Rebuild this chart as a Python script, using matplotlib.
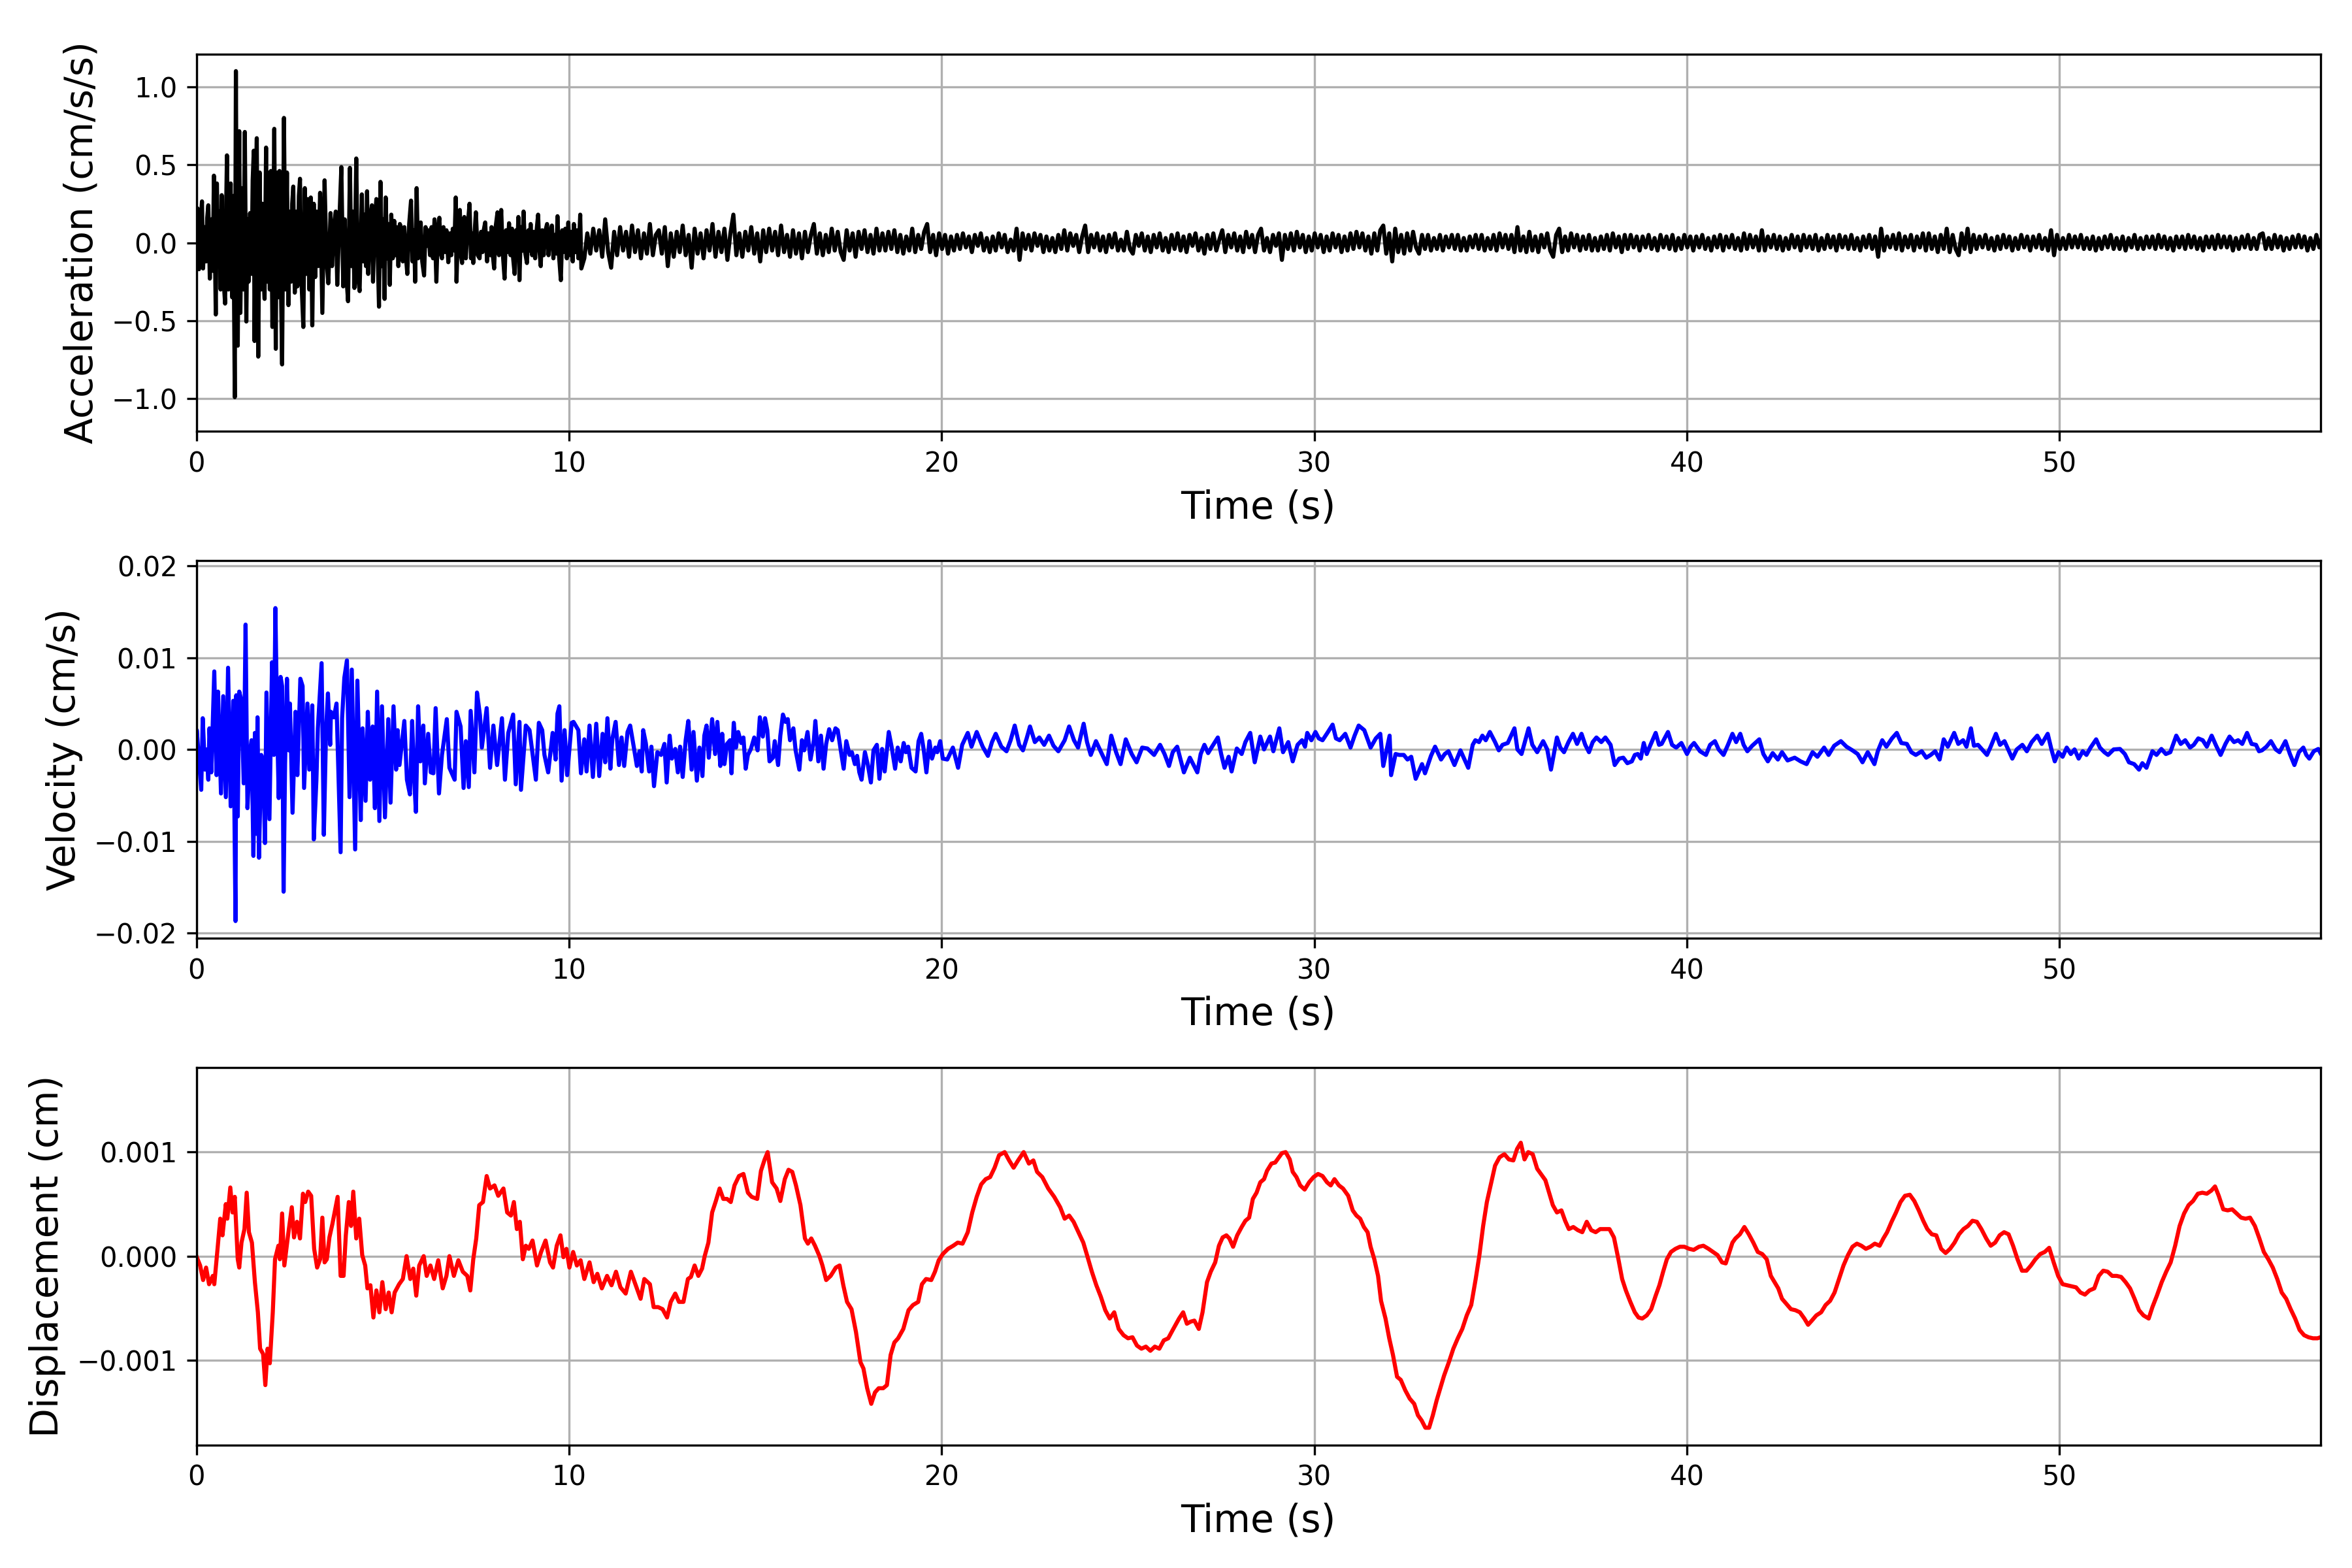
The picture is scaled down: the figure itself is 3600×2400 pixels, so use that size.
import numpy as np
import matplotlib
matplotlib.use("Agg")
import matplotlib.pyplot as plt
from matplotlib.ticker import MultipleLocator

# ---------------- Acceleration (cm/s/s) ----------------
# early part: (time s, value cm/s/s)
acc_early = [
    (0.00, 0.0), (0.03, 0.22), (0.07, -0.17), (0.11, 0.12), (0.15, 0.265), (0.18, -0.165),
    (0.22, 0.10), (0.26, -0.12), (0.29, 0.16), (0.32, 0.24), (0.36, -0.23), (0.40, 0.15),
    (0.44, -0.18), (0.47, 0.43), (0.52, -0.46), (0.55, 0.38), (0.59, -0.15), (0.62, 0.20),
    (0.65, -0.30), (0.68, 0.305), (0.72, -0.20), (0.77, -0.39), (0.80, 0.25), (0.82, 0.56),
    (0.86, -0.30), (0.89, 0.10), (0.92, 0.38), (0.96, -0.35), (0.99, 0.30), (1.03, -0.99),
    (1.06, 1.10), (1.09, -0.40), (1.11, -0.66), (1.15, 0.715), (1.18, -0.45), (1.22, 0.35),
    (1.26, -0.30), (1.30, 0.71), (1.34, -0.505), (1.37, 0.15), (1.40, -0.25), (1.44, 0.19),
    (1.48, -0.20), (1.51, 0.40), (1.54, 0.59), (1.56, -0.63), (1.59, 0.30), (1.62, 0.67),
    (1.66, -0.73), (1.70, 0.45), (1.73, -0.30), (1.77, 0.25), (1.80, -0.20), (1.83, -0.36),
    (1.87, 0.61), (1.90, -0.25), (1.94, 0.45), (1.97, -0.30), (2.00, 0.46), (2.04, -0.54),
    (2.07, 0.20), (2.09, 0.73), (2.13, -0.68), (2.16, 0.45), (2.20, -0.35), (2.23, 0.46),
    (2.27, -0.30), (2.30, -0.78), (2.35, 0.80), (2.39, -0.30), (2.43, 0.45), (2.47, -0.40),
    (2.50, 0.20), (2.54, -0.25), (2.57, 0.25), (2.60, 0.36), (2.64, -0.32), (2.68, 0.20),
    (2.71, -0.28), (2.75, 0.30), (2.78, 0.41), (2.82, -0.25), (2.87, -0.54), (2.91, 0.35),
    (2.95, -0.20), (2.99, 0.28), (3.03, -0.30), (3.07, 0.29), (3.11, -0.53), (3.15, 0.25),
    (3.19, -0.22), (3.23, 0.20), (3.27, -0.15), (3.32, 0.32), (3.38, -0.45), (3.44, 0.40),
    (3.49, -0.10), (3.54, -0.26), (3.60, 0.19), (3.64, -0.15), (3.69, 0.10), (3.74, 0.20),
    (3.78, -0.27), (3.83, 0.10), (3.89, 0.485), (3.94, -0.28), (3.98, 0.15), (4.02, -0.20),
    (4.07, -0.375), (4.12, 0.48), (4.16, -0.15), (4.20, 0.20), (4.24, -0.29), (4.29, 0.54),
    (4.33, -0.20), (4.38, -0.31), (4.44, 0.31), (4.48, -0.12), (4.52, 0.18), (4.55, -0.15),
    (4.58, 0.33), (4.61, -0.20), (4.66, 0.15), (4.71, 0.24), (4.74, -0.25), (4.78, 0.12),
    (4.83, 0.28), (4.87, -0.12), (4.90, -0.41), (4.94, 0.39), (4.98, -0.15), (5.01, 0.15),
    (5.05, -0.36), (5.08, 0.29), (5.12, -0.10), (5.16, 0.12), (5.19, -0.27), (5.23, 0.18),
    (5.27, -0.10), (5.31, 0.14), (5.35, -0.08), (5.38, 0.10), (5.42, -0.15), (5.46, 0.12),
    (5.50, 0.09), (5.54, -0.12), (5.58, 0.10), (5.62, -0.08), (5.66, -0.20), (5.71, 0.12),
    (5.76, 0.27), (5.80, -0.12), (5.84, 0.08), (5.87, -0.25), (5.91, 0.35), (5.95, -0.10),
    (5.99, 0.05), (6.02, 0.13), (6.06, -0.12), (6.11, -0.21), (6.15, 0.10), (6.19, -0.02),
    (6.23, 0.08), (6.27, -0.08), (6.31, 0.10), (6.35, -0.10), (6.39, 0.15), (6.44, -0.25),
    (6.48, 0.08), (6.52, 0.16), (6.56, -0.07), (6.59, -0.10), (6.63, 0.10), (6.67, -0.06),
    (6.71, 0.08), (6.76, -0.125), (6.80, 0.06), (6.84, -0.08), (6.88, 0.09), (6.92, -0.05),
    (6.96, 0.29), (6.98, -0.25), (7.02, 0.08), (7.07, 0.21), (7.10, -0.08), (7.13, -0.13),
    (7.16, 0.10), (7.19, 0.165), (7.23, -0.10), (7.27, 0.08), (7.33, 0.25), (7.37, -0.10),
    (7.40, 0.06), (7.43, -0.13), (7.47, 0.08), (7.50, 0.195), (7.55, -0.08), (7.60, -0.10),
    (7.64, 0.07), (7.68, -0.06), (7.71, 0.08), (7.75, 0.13), (7.80, -0.12), (7.84, 0.06),
    (7.88, -0.08), (7.92, 0.10), (7.95, -0.07), (7.99, -0.165), (8.03, 0.10), (8.08, 0.195),
    (8.12, -0.08), (8.15, 0.05), (8.18, 0.21), (8.22, -0.06), (8.27, -0.23), (8.31, 0.08),
    (8.35, -0.06), (8.39, 0.125), (8.43, -0.08), (8.47, 0.09), (8.50, -0.10), (8.54, -0.20),
    (8.58, 0.08), (8.61, -0.05), (8.64, 0.165), (8.67, -0.24), (8.71, 0.10), (8.75, -0.05),
    (8.78, 0.20), (8.82, -0.06), (8.87, -0.13), (8.91, 0.08), (8.94, -0.05), (8.97, 0.12),
    (9.01, -0.08), (9.05, 0.07), (9.09, -0.10), (9.13, 0.08), (9.17, 0.18), (9.21, -0.06),
    (9.24, -0.15), (9.28, 0.08), (9.32, -0.08), (9.36, 0.07), (9.41, 0.12), (9.45, -0.08),
    (9.49, 0.06), (9.54, 0.11), (9.58, -0.10), (9.62, 0.05), (9.66, -0.07), (9.69, 0.17),
    (9.73, -0.08), (9.78, -0.24), (9.82, 0.08), (9.86, -0.06), (9.90, 0.09), (9.94, -0.10),
    (9.98, 0.13), (10.02, -0.08), (10.06, 0.07), (10.10, -0.12), (10.13, 0.12), (10.17, -0.06),
    (10.21, 0.08), (10.25, -0.10), (10.30, 0.18), (10.33, -0.165),
]

# later part: regular samples every 0.08 s from 10.41 s, values in 0.01 cm/s/s
acc_late_start = 10.41
acc_late_step = 0.08
acc_late_centi = [
    -10, 6, -7, 9, -5, 8, -9, 15, -6, -16, 7, -8, 10, -5, 7, -9, 11, -6, 8, -10, 6, -7, 12, -8, 5,
    8, -7, 10, -15, 6, -9, 7, -6, 11, -8, 5, -16, 9, -7, 6, -10, 8, -5, 12, -9, 7, -6, 9, -11, 6,
    18, -8, 6, -9, 7, -5, 10, -7, 6, -12, 8, -6, 9, -5, 7, -8, 11, -6, 5, -9, 8, -7, 6, -10, 7,
    -6, 5, 12, -7, 6, -8, 5, -6, 9, -5, 7, -6, -11, 8, -5, 6, -9, 7, -4, 8, -6, 5, -7, 9, -5,
    6, -5, 7, -4, 8, -6, 5, -7, 4, -5, 9, -6, 5, -4, 7, 12, -6, 5, -8, 6, -4, 5, -7, 4, -5,
    5, -4, 6, -3, 4, -6, 5, -2, 6, -5, 3, -6, 4, -5, 6, -3, 5, -6, 2, -5, 9, -11, 6, -4, 5,
    -5, 6, -2, 5, -6, 4, -5, 3, -6, 5, -4, 8, -5, 6, -2, 5, -6, 4, 11, -6, 5, -3, 6, -5, 4,
    -6, 5, -3, 6, -5, 2, -5, 7, -4, -7, 5, -2, 6, -5, 4, -6, 5, -3, 6, -5, 3, -6, 5, -4, 6,
    -5, 4, -6, 5, -2, 6, -5, 3, -7, 5, -4, 6, -5, 2, 8, -6, 5, -3, 6, -5, 4, -6, 7, -3, 5,
    -6, 5, 9, -5, 3, -6, 5, -2, 6, -11, 5, -4, 6, -5, 7, -3, 5, -6, 4, -5, 6, -3, 5, -6, 4,
    -5, 6, -3, 5, -6, 4, -5, 6, -4, 7, -3, 6, -5, 4, -7, 6, -5, 8, 11, -7, 6, -12, 9, -6, 5,
    -7, 6, -5, 7, -3, -7, 5, -4, 5, -5, 3, -4, 5, -5, 4, -3, 5, -4, 5, -5, 3, -5, 4, -3, 5,
    -4, 5, -5, 3, -4, 5, -5, 6, -3, 5, -4, 5, -6, 10, -5, 4, -6, 7, -5, 4, -6, 5, -3, 6, -5,
    -9, 5, 9, -6, 4, -5, 6, -3, 5, -5, 4, -4, 5, -5, 3, -5, 4, -4, 5, -5, 6, -3, 4, -6, 5,
    -4, 5, -3, 4, -5, 4, -3, 5, -4, 3, -5, 5, -3, 4, -4, 5, -5, 3, -4, 5, -3, 4, -5, 4, -3,
    5, -4, 3, -5, 4, -3, 5, -5, 4, -3, 5, -4, 3, -5, 6, -4, 5, -3, 4, -5, 8, -5, 4, -3, 5,
    -4, 4, -5, 3, -4, 5, -3, 4, -5, 5, -3, 4, -4, 5, -5, 3, -4, 5, -3, 4, -5, 5, -3, 4, -4,
    5, -4, 3, -5, 4, -3, 5, -4, 4, -9, 9, -5, 4, -3, 5, -4, 6, -5, 4, -3, 5, -5, 4, -3, 6,
    -5, 6, -4, 4, -6, 5, -4, 9, -6, 5, -4, -8, 6, -4, 9, -6, 5, -4, 4, -3, 5, -4, 3, -5, 4,
    -4, 5, -3, 4, -5, 3, -4, 5, -3, 4, -5, 4, -3, 5, -4, 3, -5, 8, -8, 5, -4, 3, -4, 5, -3,
    4, -3, 5, -4, 3, -4, 4, -5, 3, -4, 4, -3, 5, -4, 3, -4, 4, -5, 3, -3, 5, -4, 3, -4, 4,
    -3, 4, -4, 5, -3, 4, -4, 3, -5, 4, -3, 4, -4, 5, -3, 4, -4, 3, -5, 4, -3, 4, -4, 5, -3,
    4, -3, 4, -5, 3, -4, 4, -3, 5, -4, 3, -4, 5, 6, -4, 3, -4, 5, -3, 4, -5, 3, -4, 4, -3,
    5, -3, 4, -5, 3, -4, 5, -3, 4, -5, 3, -4, 5, -3, 4, -4, 5, -3, 4, -5, 3, -3, 4, -4, 3,
]

# ---------------- Velocity (values in 0.001 cm/s) ----------------
vel_milli = [
    (0.00, 0.0), (0.01, 2.1), (0.13, -4.4), (0.17, 3.4), (0.23, -2.2), (0.27, 0.0), (0.32, -3.3),
    (0.35, 2.3), (0.40, -2.5), (0.48, 8.5), (0.54, -2.8), (0.58, 6.3), (0.66, -4.8), (0.72, 5.8),
    (0.79, -5.2), (0.85, 8.9), (0.92, -6.2), (0.99, 5.3), (1.05, -18.7), (1.07, 5.9), (1.11, -7.3),
    (1.15, 6.3), (1.21, 5.3), (1.27, -3.7), (1.32, 13.6), (1.37, -6.4), (1.44, -0.2), (1.48, 1.0),
    (1.53, -11.6), (1.57, 1.8), (1.61, -9.2), (1.64, 3.5), (1.68, -11.8), (1.74, -0.6), (1.79, -1.1),
    (1.84, -10.2), (1.88, 6.2), (1.96, -7.6), (2.03, 9.5), (2.08, -0.6), (2.12, 15.4), (2.17, 2.1),
    (2.21, -5.3), (2.26, 7.9), (2.30, 6.9), (2.34, -15.5), (2.38, -1.6), (2.43, 7.7), (2.48, -0.1),
    (2.51, 5.0), (2.58, -6.9), (2.66, 4.1), (2.71, -2.8), (2.79, 7.7), (2.85, 6.9), (2.89, -4.2),
    (2.98, 5.0), (3.03, -2.2), (3.11, 4.8), (3.15, -9.8), (3.22, -3.4), (3.26, 2.3), (3.36, 9.4),
    (3.42, -9.3), (3.48, 2.1), (3.53, 6.1), (3.59, 0.5), (3.61, 4.1), (3.69, 3.5), (3.76, 5.0),
    (3.87, -11.2), (3.91, 3.4), (3.97, 7.8), (4.04, 9.7), (4.11, -5.2), (4.17, 8.7), (4.26, -10.9),
    (4.32, 7.5), (4.41, -7.7), (4.46, 2.3), (4.54, -5.6), (4.60, 4.1), (4.66, -3.3), (4.73, 2.5),
    (4.79, -6.4), (4.85, 6.3), (4.91, -7.8), (4.98, 4.7), (5.06, -7.4), (5.15, 3.3), (5.21, -5.8),
    (5.29, 4.7), (5.36, -2.2), (5.40, 2.1), (5.45, -1.7), (5.58, 3.1), (5.65, -3.3), (5.73, -4.9),
    (5.79, 3.1), (5.84, -2.8), (5.89, -6.8), (5.95, 4.7), (6.01, -1.3), (6.09, 2.6), (6.13, -3.7),
    (6.22, 1.7), (6.29, -2.5), (6.36, -2.6), (6.42, 4.5), (6.51, -4.8), (6.59, -0.6), (6.72, 3.3),
    (6.79, -2.0), (6.93, -3.3), (6.98, 4.1), (7.09, 2.5), (7.17, -4.2), (7.23, 0.9), (7.31, -4.1),
    (7.36, 4.2), (7.46, -2.5), (7.53, 6.2), (7.61, 3.7), (7.66, 0.2), (7.79, 4.5), (7.88, -2.0),
    (7.97, 2.6), (8.07, -1.7), (8.20, 3.4), (8.28, -3.3), (8.37, 1.8), (8.50, 3.8), (8.57, -3.8),
    (8.67, 3.0), (8.71, -4.4), (8.84, 2.6), (8.94, 2.1), (9.11, -3.3), (9.19, 2.9), (9.28, 2.1),
    (9.34, -0.6), (9.44, -2.5), (9.56, 1.8), (9.64, -1.1), (9.69, 3.9), (9.74, 4.7), (9.80, -3.4),
    (9.88, 2.1), (9.95, -2.8), (10.07, 2.9),
    (10.12, 3.0), (10.25, 2.1), (10.32, -2.6), (10.41, 1.1), (10.47, -2.4), (10.55, 2.6), (10.64, -3.0),
    (10.73, 2.8), (10.81, -2.9), (10.90, 1.7), (10.97, -1.4), (11.03, 3.4), (11.11, -2.1), (11.16, 1.1),
    (11.25, 3.0), (11.34, -1.7), (11.41, 1.3), (11.48, -1.8), (11.57, 1.9), (11.64, 2.6), (11.74, 0.2),
    (11.82, -1.8), (11.89, -0.2), (11.95, -2.4), (11.99, 2.1), (12.06, 0.7), (12.15, -2.4), (12.21, 0.3),
    (12.28, -4.0), (12.37, -0.3), (12.47, -0.6), (12.56, 0.6), (12.62, -3.6), (12.70, 1.5), (12.76, -1.0),
    (12.85, 0.05), (12.92, -2.5), (12.98, 0.3), (13.05, -3.0), (13.13, 1.0), (13.20, 3.1), (13.29, -2.2),
    (13.34, 1.9), (13.43, -3.4), (13.50, 0.2), (13.58, -2.9), (13.63, 1.5), (13.69, 2.6), (13.75, -0.9),
    (13.84, 3.3), (13.92, -0.5), (13.98, 3.0), (14.06, -1.8), (14.11, 1.7), (14.17, -1.6), (14.24, 0.6),
    (14.32, 1.0), (14.36, -2.6), (14.42, 2.9), (14.48, 0.2), (14.54, 1.9), (14.62, 0.7), (14.68, 1.3),
    (14.74, -2.1), (14.80, -0.6), (14.88, 0.05), (14.97, 1.3), (15.06, -0.1), (15.12, 3.5), (15.20, 1.4),
    (15.26, 3.4), (15.32, 2.1), (15.38, -1.3), (15.47, -0.9), (15.52, 0.9), (15.61, -1.7), (15.67, 1.5),
    (15.74, 3.8), (15.81, 3.0), (15.87, 3.3), (15.93, 1.0), (16.02, 2.3), (16.08, -0.1), (16.18, -2.2),
    (16.25, 1.0), (16.31, -0.1), (16.40, 1.9), (16.48, -1.1), (16.57, 1.0), (16.61, 3.1), (16.69, -1.3),
    (16.76, 1.5), (16.83, -2.1), (16.90, 0.6), (16.98, 2.2), (17.06, 1.0), (17.15, 2.3), (17.21, 2.1),
    (17.30, -0.3), (17.37, -2.1), (17.44, 0.9), (17.53, -0.6), (17.59, -0.3), (17.67, -1.6), (17.73, -0.7),
    (17.79, -2.5), (17.85, -3.3), (17.94, -0.3), (18.02, -1.7), (18.10, -3.6), (18.17, -0.1), (18.26, 0.5),
    (18.33, -3.2), (18.40, 0.05), (18.47, -2.4), (18.58, 1.9), (18.66, 0.2), (18.75, -2.1), (18.82, 0.2),
    (18.90, -1.3), (18.98, 0.7), (19.04, -0.3), (19.10, 0.3), (19.19, -2.0), (19.30, -2.4), (19.38, 0.9),
    (19.45, 1.7), (19.52, -0.1), (19.59, -2.5), (19.67, 0.9), (19.74, -1.0), (19.83, 0.2), (19.88, -0.3),
    (19.96, 0.9), (20.03, -1.0),
    (20.15, -1.1), (20.30, 0.2), (20.44, -2.0), (20.55, 0.5), (20.70, 1.8),
    (20.80, 0.3), (20.94, 1.9), (21.10, 0.3), (21.24, -0.7), (21.35, 0.8), (21.45, 1.7), (21.60, 0.3),
    (21.74, -0.2), (21.85, 1.0), (21.96, 2.6), (22.08, 0.5), (22.18, -0.1), (22.28, 1.2), (22.37, 2.5),
    (22.50, 0.8), (22.62, 1.3), (22.75, 0.5), (22.88, 1.5), (23.00, 0.4), (23.13, -0.2), (23.30, 1.0),
    (23.42, 2.5), (23.55, 1.0), (23.66, 0.2), (23.81, 2.8), (23.90, 0.8), (24.00, -0.6), (24.14, 0.9),
    (24.30, -0.5), (24.43, -1.6), (24.55, 1.5), (24.68, -0.3), (24.80, -1.6), (24.94, 1.1), (25.10, -0.5),
    (25.23, -1.4), (25.38, 0.2), (25.52, 0.1), (25.70, -0.6), (25.86, 0.5), (25.98, -0.5), (26.10, -1.8),
    (26.20, -0.3), (26.32, 0.3), (26.50, -2.5), (26.66, -0.9), (26.86, -2.5), (26.95, -0.5), (27.05, 0.5),
    (27.15, -0.4), (27.24, 0.2), (27.41, 1.3), (27.50, -0.5), (27.59, -2.0), (27.70, -0.8), (27.78, -2.4),
    (27.92, 0.1), (28.05, -0.5), (28.15, 0.8), (28.28, 1.8), (28.40, -1.4), (28.55, 1.4), (28.65, 0.0),
    (28.81, 1.4), (28.90, -0.2), (29.06, 2.3), (29.16, -0.3), (29.30, 0.8), (29.42, -1.3), (29.55, 0.5),
    (29.67, 1.0), (29.75, 0.3), (29.81, 1.8), (29.92, 1.0), (30.03, 1.9), (30.12, 1.2), (30.22, 1.0),
    (30.35, 1.8), (30.49, 2.7), (30.58, 1.2), (30.68, 1.0), (30.83, 1.7), (30.97, 0.2), (31.08, 1.5),
    (31.19, 2.6), (31.34, 2.1), (31.51, 0.2), (31.65, 1.2), (31.77, 1.7), (31.85, -1.8), (32.02, 1.5),
    (32.06, -2.8), (32.18, -0.5), (32.28, -0.6), (32.40, -0.6), (32.50, -1.1), (32.60, -0.8), (32.72, -3.2),
    (32.89, -1.6), (32.97, -2.6), (33.13, -0.7), (33.24, 0.3), (33.40, -1.1), (33.50, -0.5), (33.60, -0.2),
    (33.76, -1.7), (33.92, -0.1), (34.02, -1.0), (34.13, -2.0), (34.25, 0.5), (34.32, 1.0), (34.42, 0.8),
    (34.51, 1.5), (34.60, 1.0), (34.71, 1.9), (34.85, 0.8), (34.95, -0.1), (35.05, 0.5), (35.19, 0.7),
    (35.37, 2.3), (35.45, 0.0), (35.56, -0.5), (35.75, 2.3), (35.85, 0.5), (35.98, -0.3), (36.14, 0.9),
    (36.25, 0.0), (36.35, -2.2), (36.51, 1.3), (36.60, 0.2), (36.70, -0.3), (36.82, 0.8), (36.94, 1.7),
    (37.05, 0.6), (37.17, 1.7), (37.27, 0.5), (37.37, -0.3), (37.47, 0.8), (37.57, 1.3), (37.70, 0.8),
    (37.81, 1.3), (37.95, 0.5), (38.06, -1.7), (38.18, -1.0), (38.29, -0.9), (38.40, -1.5), (38.52, -1.3),
    (38.60, -0.6), (38.68, -0.5), (38.76, -1.0), (38.84, 0.7), (38.92, -0.5), (39.00, 0.3), (39.16, 1.8),
    (39.25, 0.5), (39.32, 0.6), (39.49, 1.9), (39.60, 0.5), (39.71, 0.2), (39.85, 0.7), (40.00, -0.5),
    (40.10, 0.3), (40.19, 0.7), (40.35, -0.2), (40.51, -0.6), (40.62, 0.5), (40.75, 0.9), (40.85, 0.0),
    (40.98, -0.6), (41.10, 0.5), (41.22, 1.7), (41.32, 0.8), (41.43, 1.7), (41.52, 0.5), (41.62, -0.2),
    (41.75, 0.4), (41.94, 1.1), (42.05, -0.5), (42.17, -1.3), (42.30, -0.4), (42.44, -1.1), (42.55, -0.3),
    (42.70, -1.2), (42.89, -0.9), (43.05, -1.3), (43.21, -1.6), (43.37, -0.3), (43.50, -0.8), (43.68, 0.2),
    (43.80, -0.6), (43.95, 0.4), (44.13, 0.9), (44.28, 0.3), (44.44, -0.1), (44.58, -0.5), (44.71, -1.4),
    (44.85, -0.3), (45.03, -1.6), (45.12, -0.2), (45.24, 1.0), (45.35, 0.3), (45.50, 1.2), (45.63, 1.8),
    (45.75, 0.7), (45.90, 0.6), (46.02, -0.3), (46.14, -0.6), (46.30, -0.2), (46.42, -0.9), (46.54, -0.6),
    (46.66, -0.2), (46.78, -1.1), (46.89, 1.1), (47.00, 0.3), (47.17, 1.8), (47.28, 0.6), (47.41, 1.0),
    (47.50, 0.3), (47.62, 2.3), (47.70, 0.4), (47.81, 0.5), (47.92, 0.0), (48.05, -0.6), (48.15, 0.3),
    (48.29, 1.7), (48.40, 0.5), (48.52, 0.9), (48.62, 0.0), (48.73, -1.0), (48.85, 0.0), (49.00, 0.5),
    (49.12, -0.2), (49.25, 0.8), (49.40, 1.5), (49.52, 0.6), (49.68, 1.7), (49.78, 0.0), (49.87, -1.3),
    (49.97, -0.3), (50.08, -0.8), (50.19, 0.2), (50.30, -0.5), (50.40, 0.0), (50.51, -1.0), (50.62, -0.2),
    (50.72, -0.6), (50.83, 0.2), (50.98, 1.1), (51.08, 0.2), (51.20, -0.3), (51.30, -0.6), (51.45, 0.0),
    (51.62, 0.05), (51.75, -0.5), (51.86, -1.4), (52.00, -1.6), (52.13, -2.2), (52.22, -1.5), (52.33, -2.0),
    (52.49, -0.2), (52.60, -0.6), (52.73, 0.05), (52.85, -0.5), (52.97, -0.3), (53.13, 1.5), (53.25, 0.6),
    (53.37, 1.0), (53.50, 0.2), (53.60, 0.5), (53.72, 1.2), (53.84, 1.0), (53.95, 0.3), (54.08, 1.5),
    (54.20, 0.4), (54.32, -0.6), (54.45, 0.6), (54.56, 1.4), (54.68, 0.8), (54.79, 1.0), (54.90, 0.6),
    (55.03, 1.8), (55.15, 0.6), (55.27, 0.5), (55.35, -0.2), (55.43, -0.1), (55.55, 0.3), (55.67, 0.9),
    (55.80, 0.0), (55.90, -0.3), (56.06, 0.9), (56.18, -0.5), (56.30, -1.7), (56.42, -0.3), (56.54, 0.2),
    (56.62, -0.6), (56.70, -1.0), (56.82, -0.2), (56.94, 0.05), (57.00, -0.4),
]

# ---------------- Displacement (values in 0.0001 cm) ----------------
disp_tenth_milli = [
    (0.00, 0.0), (0.10, -0.9), (0.18, -2.3), (0.26, -1.1), (0.34, -2.7), (0.44, -1.9), (0.48, -2.7),
    (0.56, 0.4), (0.64, 3.6), (0.70, 2.0), (0.79, 5.0), (0.83, 3.6), (0.91, 6.6), (0.97, 4.2),
    (1.03, 5.7), (1.11, -0.3), (1.15, -1.1), (1.21, 1.3), (1.29, 2.6), (1.35, 6.1), (1.41, 2.3),
    (1.49, 1.3), (1.57, -2.5), (1.65, -5.4), (1.71, -8.9), (1.79, -9.4), (1.85, -12.4), (1.91, -8.9),
    (1.97, -10.3), (2.05, -5.4), (2.11, -0.3), (2.20, 1.0), (2.24, -0.3), (2.30, 4.1), (2.36, -0.9),
    (2.46, 2.0), (2.56, 4.7), (2.62, 1.8), (2.70, 3.3), (2.78, 1.7), (2.86, 6.0), (2.92, 5.2),
    (3.00, 6.2), (3.08, 5.8), (3.16, 0.7), (3.24, -1.1), (3.32, -0.3), (3.38, 3.7), (3.44, -0.6),
    (3.50, -0.3), (3.57, 1.8), (3.65, 3.1), (3.71, 4.2), (3.79, 5.7), (3.87, -1.9), (3.95, -1.9),
    (4.01, 2.0), (4.09, 5.2), (4.15, 2.9), (4.21, 6.2), (4.29, 1.7), (4.37, 3.6), (4.45, 0.1),
    (4.53, -0.9), (4.59, -3.1), (4.67, -2.8), (4.75, -5.9), (4.83, -3.3), (4.91, -5.4), (4.99, -2.5),
    (5.08, -5.1), (5.16, -3.5), (5.24, -5.4), (5.32, -3.5), (5.44, -2.7), (5.54, -2.2), (5.64, 0.0),
    (5.74, -2.2), (5.82, -1.2), (5.90, -3.8), (5.98, -0.9), (6.10, 0.0), (6.18, -1.9), (6.28, -0.9),
    (6.38, -2.2), (6.49, -0.4), (6.61, -3.1), (6.71, -1.9), (6.79, 0.0), (6.91, -1.9), (7.03, -0.4),
    (7.15, -1.5), (7.27, -1.9), (7.35, -3.3), (7.43, -0.3), (7.51, 1.7), (7.59, 4.9), (7.69, 5.2),
    (7.79, 7.7), (7.88, 6.5), (8.00, 6.8), (8.10, 5.8), (8.24, 6.5), (8.34, 4.2), (8.44, 3.9),
    (8.52, 5.2), (8.60, 2.6), (8.68, 3.3), (8.76, -0.3), (8.84, 1.0), (8.92, 0.7), (9.02, 1.5),
    (9.14, -0.9), (9.25, 0.4), (9.37, 1.5), (9.49, -0.6), (9.57, -1.1), (9.67, 1.0), (9.77, 2.0),
    (9.85, -0.1), (9.93, 0.7), (10.01, -1.1), (10.11, 0.4), (10.21, -0.9), (10.31, -0.4), (10.41, -2.2),
    (10.55, -0.6), (10.66, -2.5), (10.76, -1.7), (10.88, -3.1), (11.02, -1.9), (11.14, -2.8), (11.26, -1.5),
    (11.38, -3.0), (11.52, -3.6), (11.66, -1.5), (11.78, -2.7), (11.92, -4.1), (12.02, -2.2), (12.17, -2.7),
    (12.27, -4.9), (12.39, -4.9), (12.51, -5.1), (12.63, -5.9), (12.73, -4.4), (12.85, -3.6), (12.95, -4.4),
    (13.07, -4.4), (13.19, -2.2), (13.27, -2.0), (13.37, -0.9), (13.47, -1.9), (13.57, -1.2), (13.64, 0.0),
    (13.74, 1.3), (13.84, 4.2), (13.94, 5.3), (14.04, 6.5), (14.14, 5.5), (14.24, 5.5), (14.34, 5.2),
    (14.44, 6.8), (14.56, 7.7), (14.68, 7.9), (14.80, 6.1), (14.90, 5.7), (15.05, 5.5), (15.15, 8.2),
    (15.25, 9.3), (15.33, 10.0), (15.45, 7.1), (15.57, 6.5), (15.67, 5.3), (15.79, 7.4), (15.89, 8.3),
    (15.99, 8.1), (16.09, 6.8), (16.21, 4.9), (16.33, 1.7), (16.41, 1.2), (16.50, 1.7), (16.60, 1.0),
    (16.72, 0.0), (16.80, -0.9), (16.90, -2.3), (17.02, -1.9), (17.16, -1.1), (17.26, -0.9), (17.36, -2.8),
    (17.46, -4.4), (17.58, -5.1), (17.70, -7.3), (17.82, -10.2), (17.90, -10.8), (18.00, -12.7), (18.11, -14.2),
    (18.21, -13.1), (18.31, -12.7), (18.43, -12.7), (18.53, -12.4), (18.63, -9.5), (18.73, -8.3), (18.83, -7.9),
    (18.97, -7.0), (19.11, -5.2), (19.23, -4.7), (19.37, -4.4), (19.47, -2.7), (19.58, -2.2), (19.72, -2.3),
    (19.82, -1.5), (19.92, -0.4), (20.03, 0.2), (20.17, 0.7), (20.31, 1.0), (20.43, 1.3), (20.56, 1.2),
    (20.70, 2.3), (20.82, 4.2), (20.94, 5.7), (21.06, 6.9), (21.18, 7.4), (21.30, 7.6), (21.42, 8.5),
    (21.54, 9.7), (21.69, 10.0), (21.81, 9.2), (21.93, 8.5), (22.05, 9.2), (22.20, 10.0), (22.34, 8.9),
    (22.46, 9.2), (22.56, 8.1), (22.70, 7.6), (22.86, 6.5), (23.02, 5.7), (23.18, 4.7), (23.30, 3.6),
    (23.42, 3.9), (23.54, 3.3), (23.71, 2.0), (23.80, 1.3), (23.90, 0.1), (24.03, -1.5), (24.15, -2.8),
    (24.27, -3.9), (24.39, -5.2), (24.51, -6.0), (24.63, -5.4), (24.75, -7.0), (24.88, -7.6), (25.00, -7.9),
    (25.12, -7.8), (25.24, -8.6), (25.36, -8.9), (25.48, -8.7), (25.60, -9.1), (25.72, -8.7), (25.84, -8.9),
    (25.96, -8.1), (26.08, -7.9), (26.20, -7.1), (26.37, -6.0), (26.48, -5.4), (26.58, -6.5), (26.68, -6.3),
    (26.78, -6.2), (26.90, -7.0), (27.00, -5.4), (27.12, -2.5), (27.22, -1.5), (27.34, -0.6), (27.44, 1.0),
    (27.54, 1.8), (27.64, 2.0), (27.72, 1.7), (27.82, 0.9), (27.93, 2.0), (28.05, 2.8), (28.15, 3.4),
    (28.25, 3.7), (28.35, 5.5), (28.45, 6.1), (28.55, 7.1), (28.65, 7.4), (28.73, 8.2), (28.85, 8.9),
    (28.95, 9.0), (29.05, 9.5), (29.13, 9.9), (29.23, 10.0), (29.34, 9.3), (29.42, 8.1), (29.52, 7.6),
    (29.62, 6.8), (29.74, 6.4), (29.86, 7.1), (29.98, 7.6), (30.10, 7.9), (30.22, 7.7), (30.34, 7.1),
    (30.44, 6.8), (30.54, 7.4), (30.66, 6.8), (30.77, 6.5), (30.91, 5.8), (31.03, 4.4), (31.13, 3.9),
    (31.23, 3.6), (31.33, 2.8), (31.43, 2.3), (31.51, 0.9), (31.61, -0.3), (31.71, -1.9), (31.79, -4.3),
    (31.91, -6.0), (32.01, -7.9), (32.11, -9.5), (32.22, -11.6), (32.32, -11.9), (32.44, -12.9), (32.56, -13.7),
    (32.68, -14.2), (32.78, -15.3), (32.88, -15.8), (32.98, -16.5), (33.08, -16.5), (33.18, -15.3), (33.28, -13.9),
    (33.38, -12.7), (33.48, -11.5), (33.61, -10.2), (33.73, -8.9), (33.85, -7.9), (33.97, -7.0), (34.09, -5.7),
    (34.21, -4.7), (34.33, -2.2), (34.43, 0.1), (34.53, 2.9), (34.63, 5.2), (34.73, 6.8), (34.85, 8.7),
    (34.97, 9.5), (35.10, 9.8), (35.22, 9.3), (35.34, 9.2), (35.44, 10.3), (35.54, 10.9), (35.64, 9.3),
    (35.74, 10.0), (35.86, 9.8), (35.98, 8.4), (36.08, 7.9), (36.20, 7.3), (36.30, 6.1), (36.40, 4.9),
    (36.51, 4.2), (36.63, 4.4), (36.73, 3.4), (36.83, 2.6), (36.95, 2.8), (37.07, 2.5), (37.19, 2.3),
    (37.31, 3.3), (37.43, 2.5), (37.55, 2.3), (37.67, 2.6), (37.79, 2.6), (37.92, 2.6), (38.04, 1.8),
    (38.16, -0.3), (38.26, -2.2), (38.36, -3.3), (38.48, -4.4), (38.60, -5.4), (38.70, -5.9), (38.80, -6.0),
    (38.92, -5.7), (39.04, -5.1), (39.16, -3.8), (39.26, -2.8), (39.36, -1.5), (39.46, -0.3), (39.57, 0.4),
    (39.69, 0.7), (39.81, 0.9), (39.93, 0.9), (40.06, 0.7), (40.18, 0.6), (40.32, 0.9), (40.44, 1.0),
    (40.58, 0.7), (40.70, 0.4), (40.82, 0.1), (40.94, -0.6), (41.04, -0.7), (41.14, 0.4), (41.22, 1.3),
    (41.30, 1.7), (41.42, 2.1), (41.54, 2.8), (41.66, 2.1), (41.78, 1.3), (41.90, 0.4), (42.02, 0.2),
    (42.14, -0.3), (42.25, -1.9), (42.35, -2.5), (42.45, -3.1), (42.55, -4.1), (42.67, -4.6), (42.79, -5.1),
    (42.91, -5.2), (43.03, -5.4), (43.15, -6.0), (43.25, -6.6), (43.35, -6.2), (43.47, -5.7), (43.60, -5.4),
    (43.72, -4.7), (43.84, -4.3), (43.96, -3.5), (44.08, -2.2), (44.20, -0.9), (44.32, 0.1), (44.44, 0.9),
    (44.56, 1.2), (44.68, 1.0), (44.80, 0.7), (44.92, 0.9), (45.04, 1.2), (45.17, 1.0), (45.27, 1.7),
    (45.37, 2.3), (45.49, 3.3), (45.61, 4.2), (45.73, 5.2), (45.85, 5.8), (45.98, 5.9), (46.10, 5.3),
    (46.22, 4.4), (46.34, 3.4), (46.45, 2.6), (46.57, 2.1), (46.69, 2.0), (46.82, 0.7), (46.94, 0.3),
    (47.06, 0.7), (47.18, 1.3), (47.30, 2.1), (47.42, 2.6), (47.54, 2.9), (47.66, 3.4), (47.78, 3.3),
    (47.90, 2.6), (48.03, 1.7), (48.15, 1.0), (48.27, 1.3), (48.39, 2.0), (48.51, 2.3), (48.63, 2.1),
    (48.75, 1.0), (48.87, -0.3), (48.99, -1.4), (49.11, -1.4), (49.23, -0.9), (49.35, -0.3), (49.48, 0.2),
    (49.60, 0.4), (49.72, 0.8), (49.84, -0.6), (49.96, -1.9), (50.08, -2.7), (50.20, -2.8), (50.32, -2.9),
    (50.44, -3.0), (50.56, -3.5), (50.68, -3.7), (50.80, -3.3), (50.93, -3.1), (51.05, -1.9), (51.17, -1.4),
    (51.29, -1.5), (51.41, -1.9), (51.53, -1.9), (51.65, -2.0), (51.77, -2.5), (51.89, -3.1), (52.01, -4.1),
    (52.13, -5.2), (52.25, -5.7), (52.39, -6.0), (52.49, -4.9), (52.61, -3.8), (52.74, -2.5), (52.86, -1.5),
    (52.98, -0.6), (53.10, 1.0), (53.22, 2.9), (53.34, 4.1), (53.46, 4.9), (53.58, 5.3), (53.71, 6.0),
    (53.83, 6.1), (53.95, 6.0), (54.07, 6.3), (54.17, 6.7), (54.27, 5.8), (54.39, 4.5), (54.51, 4.4),
    (54.63, 4.5), (54.75, 4.1), (54.87, 3.7), (54.99, 3.6), (55.11, 3.7), (55.24, 2.9), (55.36, 1.7),
    (55.48, 0.4), (55.60, -0.3), (55.72, -1.1), (55.84, -2.2), (55.96, -3.5), (56.08, -4.1), (56.20, -5.1),
    (56.32, -6.0), (56.44, -7.1), (56.56, -7.6), (56.68, -7.8), (56.80, -7.9), (56.92, -7.9), (57.00, -7.8),
]

# ---------------- assemble series ----------------
acc_t = np.concatenate([
    np.array([p[0] for p in acc_early]),
    acc_late_start + acc_late_step * np.arange(len(acc_late_centi)),
])
acc_v = np.concatenate([
    np.array([p[1] for p in acc_early]),
    np.array(acc_late_centi, dtype=float) * 0.01,
])
vel_t = np.array([p[0] for p in vel_milli])
vel_v = np.array([p[1] for p in vel_milli]) * 1e-3
disp_t = np.array([p[0] for p in disp_tenth_milli])
disp_v = np.array([p[1] for p in disp_tenth_milli]) * 1e-4

series = [
    (acc_t, acc_v, "k", "Acceleration (cm/s/s)"),
    (vel_t, vel_v, "b", "Velocity (cm/s)"),
    (disp_t, disp_v, "r", "Displacement (cm)"),
]

fig, axes = plt.subplots(3, 1, figsize=(12, 8), dpi=300)
fig.subplots_adjust(left=0.0835, right=0.9866, top=0.9656, bottom=0.0785, hspace=0.342)

t_end = 57.0
for ax, (t, v, c, lab) in zip(axes, series):
    ax.plot(t, v, color=c, linewidth=1.5)
    ax.set_xlim(0, t_end)
    m = np.max(np.abs(v))
    ax.set_ylim(-1.1 * m, 1.1 * m)
    ax.grid(True)
    ax.set_xlabel("Time (s)", fontsize=14)
    ax.set_ylabel(lab, fontsize=14)
    ax.tick_params(labelsize=10)

axes[0].yaxis.set_major_locator(MultipleLocator(0.5))
axes[1].yaxis.set_major_locator(MultipleLocator(0.01))
axes[2].yaxis.set_major_locator(MultipleLocator(0.001))

fig.savefig("out.png", dpi=300)
